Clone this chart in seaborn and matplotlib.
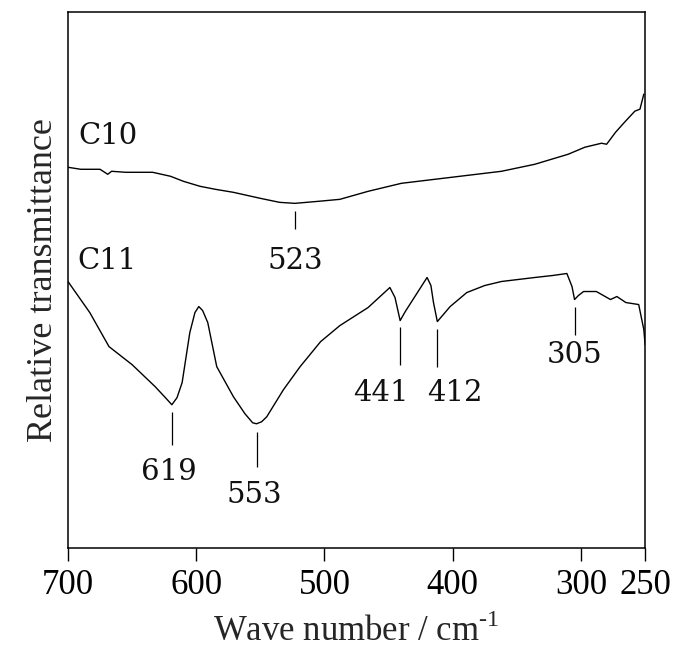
# IR spectra of C10 and C11

import numpy as np
import matplotlib.pyplot as plt
import pandas as pd
import seaborn as sns

# C10 spectrum (wave number, relative transmittance in arbitrary units)
c10_wn = [700, 690, 675, 669, 666, 655, 634, 620, 610, 597, 585, 571, 550,
          535, 523, 505, 488, 466, 440, 414, 388, 362, 336, 310, 297, 284,
          280, 273, 266, 258, 254, 251]
c10_t = [380, 378, 378, 373, 376, 375, 375, 371, 366, 361, 358, 355, 349,
         345, 344, 346, 348, 356, 364, 368, 372, 376, 383, 393, 400, 404,
         403, 415, 425, 436, 438, 453]

# C11 spectrum
c11_wn = [700, 683, 668, 650, 632, 624, 619, 615, 611, 605, 601, 598, 595,
          591, 584, 571, 562, 556, 553, 549, 545, 532, 519, 503, 488, 466,
          449, 445, 441, 437, 431, 420, 417, 415, 412, 408, 402, 389, 375,
          362, 349, 336, 322, 311, 307, 305, 302, 298, 288, 277, 272, 265,
          255, 251, 250]
c11_t = [266, 235, 201, 183, 161, 150, 143, 150, 165, 215, 235, 241, 237,
         225, 181, 151, 134, 125, 124, 126, 131, 158, 181, 206, 222, 240,
         260, 250, 227, 236, 248, 270, 262, 245, 226, 232, 241, 255, 262,
         266, 268, 270, 272, 274, 261, 248, 252, 256, 256, 248, 251, 245,
         243, 218, 203]

# peak labels
c10_peaks = [523]
c11_peaks = [619, 553, 441, 412, 305]

xticks = [700, 600, 500, 400, 300, 250]

df = pd.concat([
    pd.DataFrame({"wn": c10_wn, "t": c10_t, "sample": "C10"}),
    pd.DataFrame({"wn": c11_wn, "t": c11_t, "sample": "C11"}),
])

sns.set_theme(style="ticks")
plt.rcParams["font.family"] = ["Liberation Serif", "DejaVu Serif"]
plt.rcParams["axes.unicode_minus"] = False
plt.rcParams["mathtext.fontset"] = "custom"
plt.rcParams["mathtext.rm"] = "Liberation Serif"

fig = plt.figure(figsize=(6.75, 6.51), dpi=100)
ax = fig.add_axes([0.1007, 0.1582, 0.855, 0.8234])

for name, grp in df.groupby("sample"):
    sns.lineplot(data=grp, x="wn", y="t", ax=ax, color="black",
                 linewidth=1.0, estimator=None, sort=False, legend=False)

ax.set_xlim(700, 250)
ax.set_ylim(0, 535)
ax.set_xticks(xticks)
ax.set_xticklabels([str(v) for v in xticks], fontsize=25)
ax.set_yticks([])
ax.tick_params(axis="x", direction="out", length=9, width=1.0, pad=6,
               colors="black")
for s in ax.spines.values():
    s.set_visible(True)
    s.set_color("black")
    s.set_linewidth(1.1)

ax.set_xlabel("Wave number / cm$^{\\text{-1}}$", fontsize=25, labelpad=9)
ax.set_ylabel("Relative transmittance", fontsize=26, labelpad=6)

lab = dict(fontsize=21, family="DejaVu Serif", color="#111111")
ax.text(692, 411, "C10", ha="left", va="center", **lab)
ax.text(693, 286, "C11", ha="left", va="center", **lab)

# peak marker lines and labels: (line bottom, line top, label y)
marks = {523: (318, 336, 286), 619: (103, 136, 76), 553: (81, 116, 53),
         441: (183, 221, 155), 412: (181, 219, 155), 305: (213, 241, 193)}
label_dx = {523: 0, 619: 2, 553: 2, 441: 15, 412: -14, 305: 0}
for p in c10_peaks + c11_peaks:
    y0, y1, yl = marks[p]
    ax.vlines(p, y0, y1, color="black", linewidth=0.9)
    ax.text(p + label_dx[p], yl, str(p), ha="center", va="center", **lab)

fig.savefig("out.png", dpi=100)
